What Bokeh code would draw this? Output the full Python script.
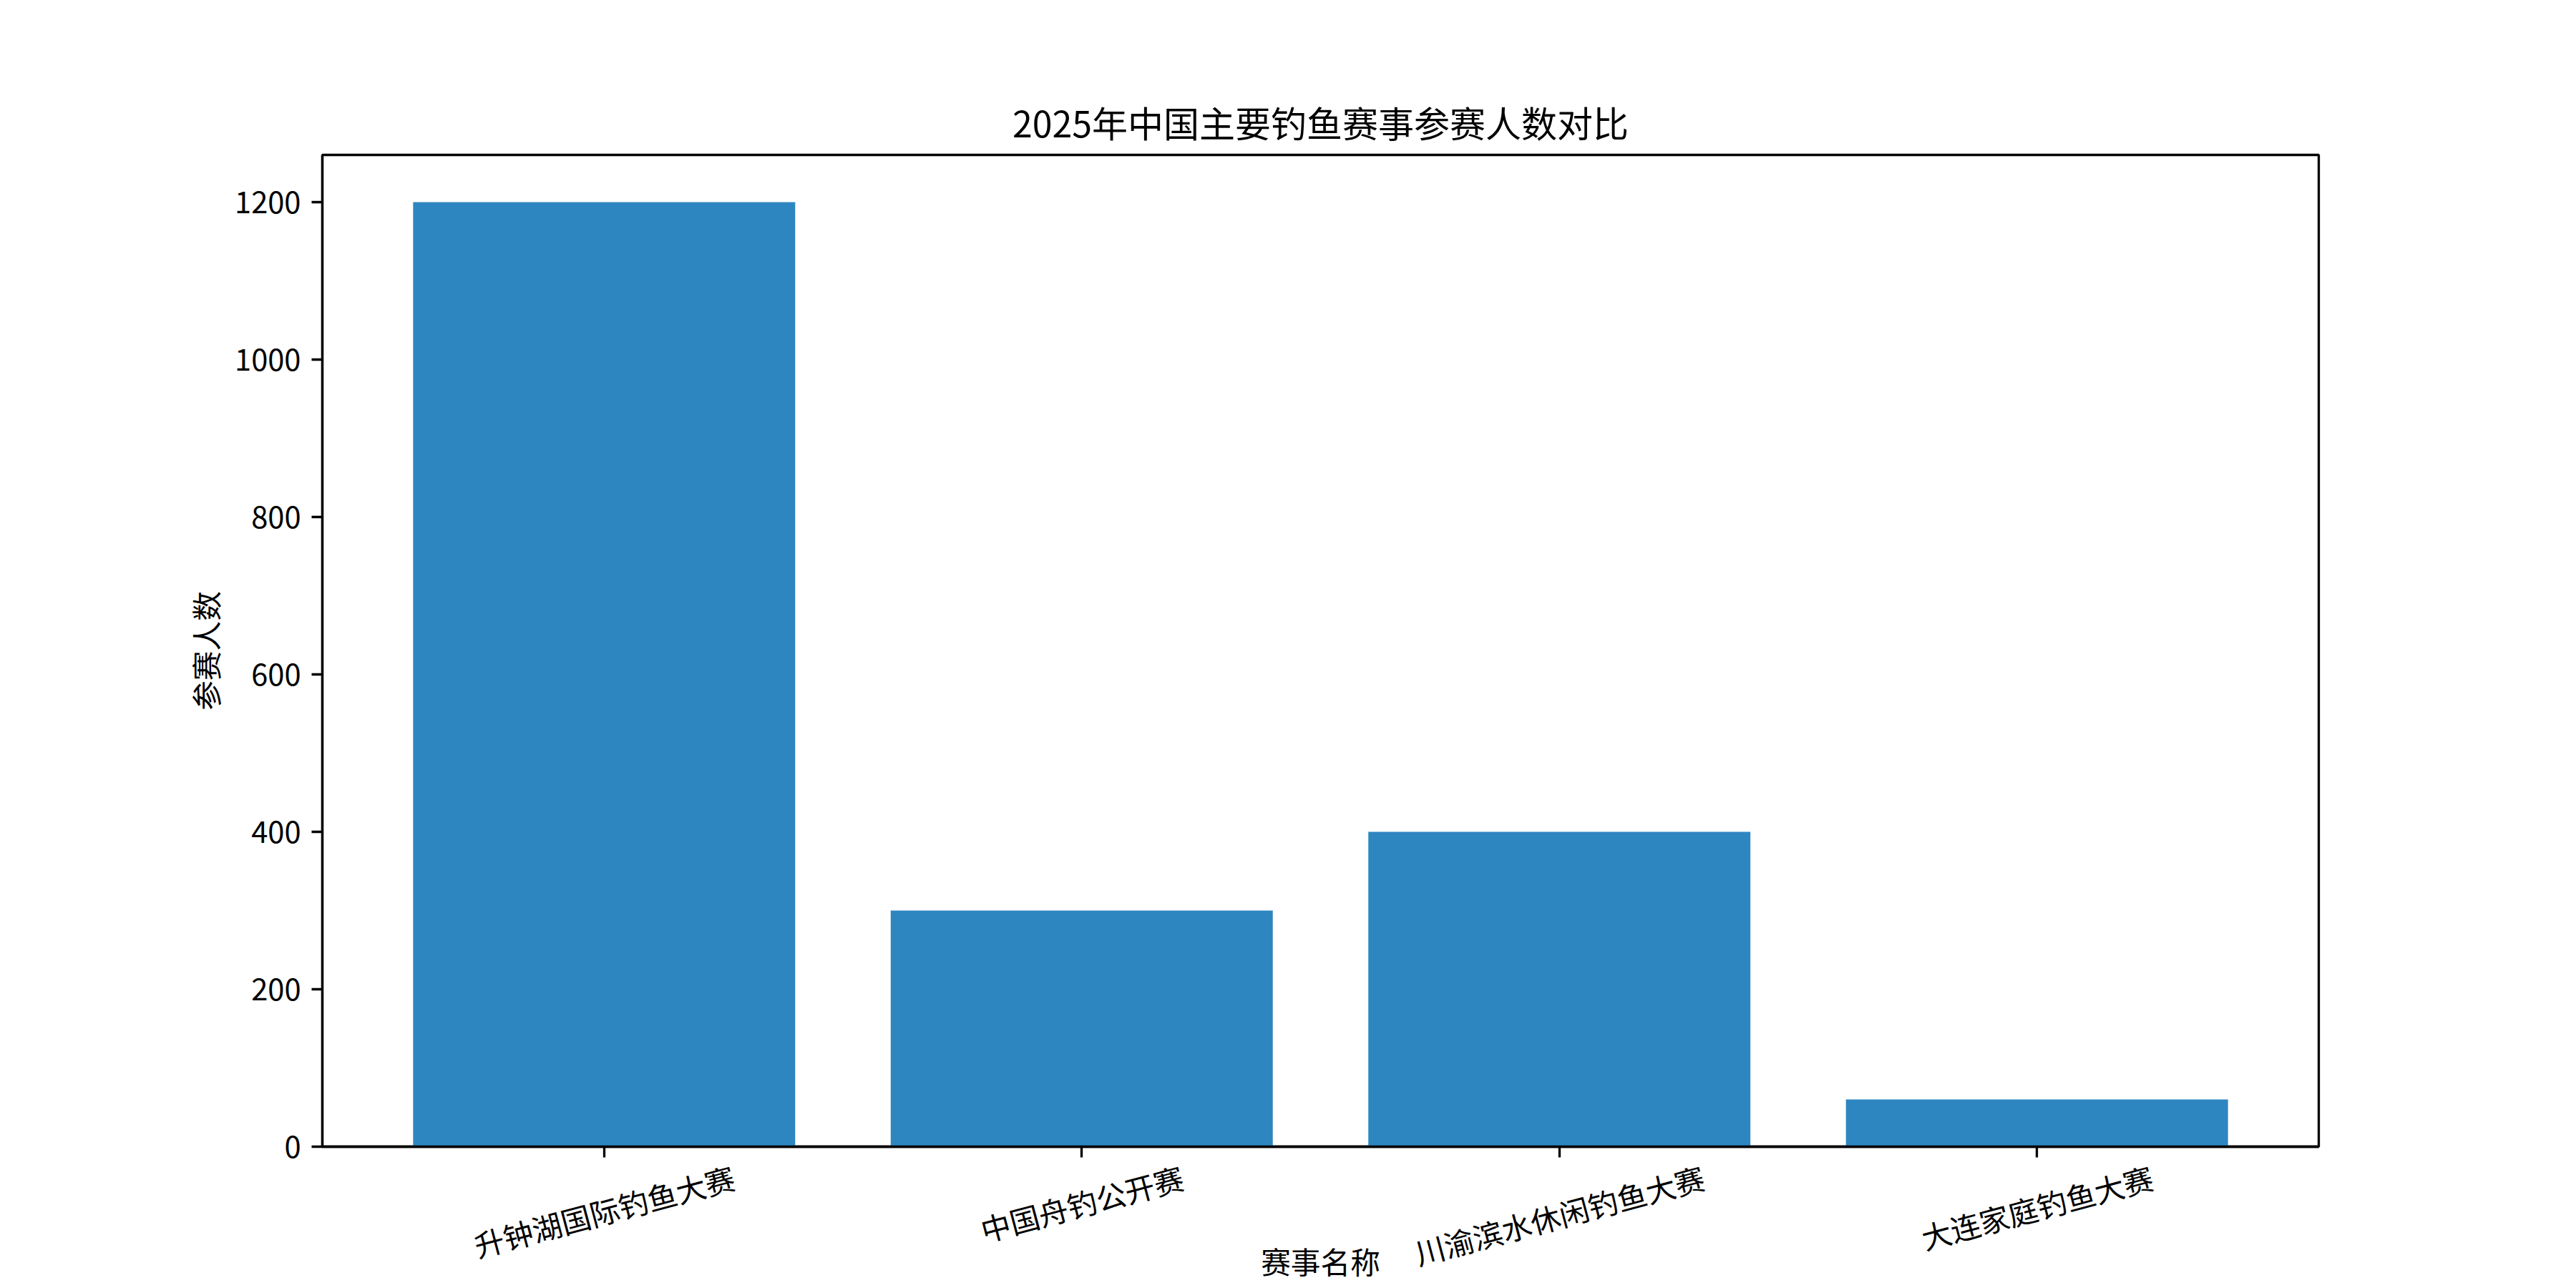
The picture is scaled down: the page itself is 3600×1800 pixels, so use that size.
import math
from bokeh.plotting import figure
from bokeh.models import Range1d, FixedTicker, ColumnDataSource, LinearAxis
from bokeh.embed import file_html
from bokeh.resources import INLINE

# ---- data ----
title_text = "2025年中国主要钓鱼赛事参赛人数对比"
x_title = "赛事名称"
y_title = "参赛人数"
events = ["升钟湖国际钓鱼大赛", "中国舟钓公开赛", "川渝滨水休闲钓鱼大赛", "大连家庭钓鱼大赛"]
participants = [1200, 300, 400, 60]
y_ticks = [0, 200, 400, 600, 800, 1000, 1200]

# ---- style / layout ----
FONT = "Noto Sans CJK SC"
BAR = "#2E86C1"
FS = 41.67
W, H = 3600, 1800
LEFT, RIGHT, TOP, BOTTOM = 450, 360, 216, 198
frame_w = W - LEFT - RIGHT

n = len(events)
bar_w = 0.8
lo, hi = -bar_w / 2, n - 1 + bar_w / 2
m = 0.05 * (hi - lo)
x0, x1 = lo - m, hi + m
y_hi = max(participants) * 1.05
px_x = frame_w / (x1 - x0)

p = figure(width=W, height=H, output_backend="svg", toolbar_location=None,
           x_range=Range1d(x0, x1), y_range=Range1d(0, y_hi),
           min_border_left=LEFT, min_border_right=RIGHT,
           min_border_top=TOP, min_border_bottom=BOTTOM,
           background_fill_color="white", border_fill_color="white")

src = ColumnDataSource(dict(x=list(range(n)), top=participants, name=events))
p.vbar(x="x", top="top", width=bar_w, source=src, fill_color=BAR, line_color=None)

p.xgrid.visible = False
p.ygrid.visible = False
p.outline_line_color = "black"
p.outline_line_width = 3.3
p.outline_line_alpha = 1.0

# title
p.title.text = title_text
p.title.align = "center"
p.title.text_font = FONT
p.title.text_font_size = "50px"
p.title.text_font_style = "normal"
p.title.text_color = "black"
p.title.standoff = 22

# y axis
ya = p.yaxis[0]
ya.ticker = FixedTicker(ticks=y_ticks, minor_ticks=[])
ya.axis_line_width = 3.3
ya.major_tick_line_width = 3.3
ya.major_tick_out = 15
ya.major_tick_in = 0
ya.minor_tick_out = 0
ya.minor_tick_in = 0
ya.major_label_text_font = FONT
ya.major_label_text_font_size = f"{FS}px"
ya.major_label_text_color = "black"
ya.major_label_standoff = 15
ya.axis_label = y_title
ya.axis_label_text_font = FONT
ya.axis_label_text_font_size = f"{FS}px"
ya.axis_label_text_font_style = "normal"
ya.axis_label_text_color = "black"
ya.axis_label_standoff = 8

# x axis: tick marks at the bar centres (drawn outward, taking no layout room)
xa = p.xaxis[0]
xa.ticker = FixedTicker(ticks=list(range(n)), minor_ticks=[])
xa.axis_line_width = 3.3
xa.major_tick_line_width = 3.3
xa.major_tick_out = 0
xa.major_tick_in = -15
xa.minor_tick_out = 0
xa.minor_tick_in = 0
xa.major_label_overrides = {i: "" for i in range(n)}
xa.major_label_text_font_size = "0px"
xa.major_label_standoff = 0

# second x axis carrying the rotated category labels, centred under each tick
ang = math.radians(15)
lab_ticks = [i + (len(t) * FS / 2) * math.cos(ang) / px_x for i, t in enumerate(events)]
xl = LinearAxis(ticker=FixedTicker(ticks=lab_ticks, minor_ticks=[]),
                major_label_overrides={v: t for v, t in zip(lab_ticks, events)},
                major_label_orientation=ang,
                major_tick_out=0, major_tick_in=0, minor_tick_out=0, minor_tick_in=0,
                axis_line_color=None,
                major_label_standoff=41,
                major_label_text_font=FONT, major_label_text_font_size=f"{FS}px",
                major_label_text_color="black",
                axis_label=x_title, axis_label_standoff=-80,
                axis_label_text_font=FONT, axis_label_text_font_size=f"{FS}px",
                axis_label_text_font_style="normal", axis_label_text_color="black")
p.add_layout(xl, "below")

open("out.html", "w").write(file_html(p, INLINE))
